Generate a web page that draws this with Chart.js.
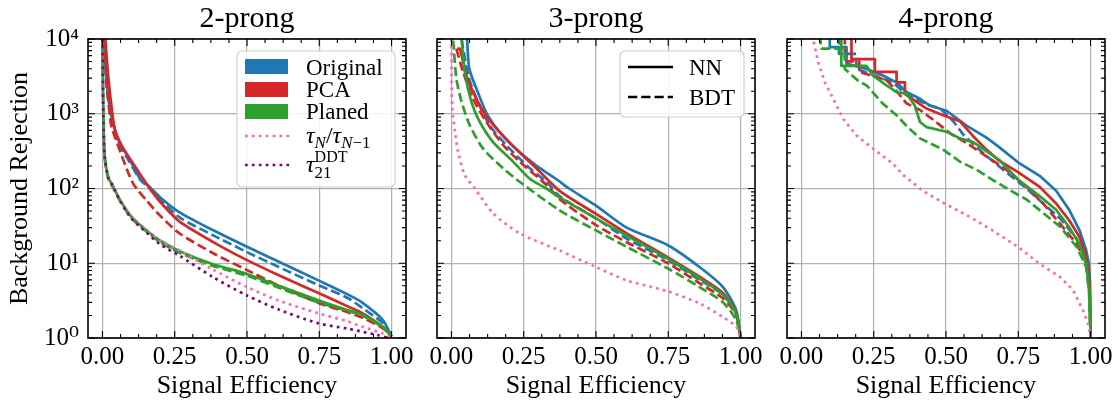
<!DOCTYPE html>
<html>
<head>
<meta charset="utf-8">
<title>Background rejection vs signal efficiency</title>
<script src="https://cdn.jsdelivr.net/npm/chart.js@4.4.1/dist/chart.umd.min.js"></script>
<style>
    html, body { margin: 0; padding: 0; background: #ffffff; }
    #figure { position: relative; width: 1118px; height: 403px; overflow: hidden; }
    #figure canvas { position: absolute; top: 0; }
</style>
</head>
<body>
<div id="figure">
    <canvas id="panel-2prong" width="420" height="403" style="left:0px"></canvas>
    <canvas id="panel-3prong" width="350" height="403" style="left:420px"></canvas>
    <canvas id="panel-4prong" width="348" height="403" style="left:770px"></canvas>
</div>
<script>
/* Axis ticks and labels */
var efficiencyTicks = [0, 0.25, 0.5, 0.75, 1];
var rejectionTicks = [1, 10, 100, 1000, 10000];
var panelTitles = ['2-prong', '3-prong', '4-prong'];
var sampleLabels = ['Original', 'PCA', 'Planed'];
var modelLabels = ['NN', 'BDT'];

/* 2-prong: signal efficiency / background rejection */
var p2OriginalEff = [0.005, 0.015, 0.03, 0.06, 0.087, 0.13, 0.158, 0.2, 0.267, 0.38, 0.5, 0.61, 0.747, 0.85, 0.9, 0.97, 1.0];
var p2OriginalNN  = [10000, 2512, 955, 398, 275, 135, 110, 76, 48, 28, 16.6, 10.5, 5.9, 3.8, 2.95, 1.74, 1.05];
var p2OriginalBDT = [10000, 2239, 891, 380, 251, 132, 105, 72, 41, 24, 14.1, 8.9, 5.1, 3.4, 2.5, 1.58, 1.05];
var p2PcaNNEff    = [0.01, 0.02, 0.035, 0.045, 0.07, 0.11, 0.156, 0.2, 0.267, 0.38, 0.5, 0.61, 0.747, 0.85, 0.9, 0.97, 1.0];
var p2PcaNN       = [10000, 3162, 955, 575, 355, 204, 110, 66, 36, 19.5, 11, 6.9, 4.0, 2.63, 2.14, 1.41, 1.05];
var p2PcaBDTEff   = [0.005, 0.015, 0.03, 0.045, 0.087, 0.11, 0.15, 0.2, 0.267, 0.38, 0.5, 0.61, 0.747, 0.85, 0.9, 0.97, 1.0];
var p2PcaBDT      = [10000, 2512, 708, 468, 170, 110, 71, 43, 25, 13.8, 8.1, 5.0, 2.95, 2.19, 1.86, 1.35, 1.05];
var p2PlanedEff   = [0.0, 0.003, 0.0075, 0.02, 0.035, 0.06, 0.1, 0.15, 0.2, 0.267, 0.38, 0.5, 0.61, 0.747, 0.85, 0.9, 0.97, 1.0];
var p2PlanedNN    = [10000, 1000, 275, 141, 110, 71, 42, 28, 20, 14.5, 9.8, 7.2, 5.0, 3.2, 2.34, 2.04, 1.41, 1.05];
var p2PlanedBDT   = [10000, 1000, 263, 135, 105, 69, 40, 27, 19, 13.8, 9.3, 6.8, 4.7, 3.0, 2.29, 2.0, 1.38, 1.05];
var p2TauRatio    = [10000, 1000, 275, 141, 110, 71, 42, 27.5, 20, 14.8, 8.3, 4.8, 3.16, 2.14, 1.66, 1.41, 1.15, 1.0];
var p2TauDDTEff   = [0.0, 0.003, 0.0075, 0.02, 0.035, 0.06, 0.1, 0.15, 0.2, 0.267, 0.38, 0.5, 0.61, 0.747, 0.85, 0.9, 0.95, 0.99];
var p2TauDDT      = [10000, 1000, 275, 141, 110, 69, 40, 26.3, 17.8, 12.6, 6.6, 3.7, 2.4, 1.57, 1.33, 1.21, 1.1, 1.0];

/* 3-prong */
var p3OriginalNNEff  = [0.054, 0.062, 0.096, 0.125, 0.165, 0.223, 0.292, 0.361, 0.407, 0.5, 0.606, 0.749, 0.858, 0.939, 0.985, 1.0];
var p3OriginalNN     = [10000, 3981, 1738, 955, 575, 339, 204, 135, 100, 59, 30, 17.4, 8.9, 4.8, 2.34, 1.0];
var p3OriginalBDTEff = [0.035, 0.058, 0.087, 0.133, 0.19, 0.271, 0.328, 0.374, 0.5, 0.606, 0.749, 0.858, 0.939, 0.985, 1.0];
var p3OriginalBDT    = [10000, 3236, 1585, 692, 380, 186, 123, 79, 39.8, 21.4, 11, 6.0, 3.8, 2.14, 1.0];
var p3PcaNNEff       = [0.02, 0.029, 0.052, 0.075, 0.11, 0.156, 0.225, 0.294, 0.374, 0.5, 0.606, 0.749, 0.858, 0.939, 0.985, 1.0];
var p3PcaNN          = [7413, 7413, 3236, 1950, 1072, 631, 331, 186, 93, 45.7, 25.1, 12.0, 6.6, 4.0, 2.14, 1.0];
var p3PcaBDTEff      = [0.017, 0.04, 0.075, 0.121, 0.179, 0.236, 0.328, 0.374, 0.5, 0.606, 0.749, 0.858, 0.939, 0.985, 1.0];
var p3PcaBDT         = [7413, 3631, 1585, 776, 380, 229, 112, 72, 32.4, 19.1, 10, 5.4, 3.4, 2.04, 1.0];
var p3PlanedNNEff    = [0.035, 0.046, 0.069, 0.098, 0.144, 0.213, 0.271, 0.328, 0.374, 0.5, 0.606, 0.749, 0.858, 0.939, 0.985, 1.0];
var p3PlanedNN       = [10000, 3631, 1445, 776, 417, 229, 135, 100, 76, 39.8, 23.4, 11.5, 6.3, 3.8, 2.14, 1.0];
var p3PlanedBDTEff   = [0.006, 0.017, 0.035, 0.064, 0.11, 0.179, 0.236, 0.374, 0.5, 0.606, 0.749, 0.858, 0.939, 0.985, 1.0];
var p3PlanedBDT      = [9550, 2951, 1445, 692, 339, 186, 123, 51, 27.5, 16.6, 8.5, 4.8, 3.0, 1.74, 1.0];
var p3TauEff         = [0.0, 0.002, 0.012, 0.023, 0.046, 0.081, 0.143, 0.236, 0.374, 0.5, 0.606, 0.749, 0.858, 0.939, 0.985, 1.0];
var p3TauRatio       = [10000, 1288, 575, 309, 151, 100, 46.8, 25.1, 14.8, 8.9, 5.9, 4.2, 2.9, 1.9, 1.41, 1.0];

/* 4-prong (stepped at low efficiency) */
var p4OriginalNNEff  = [0.098, 0.098, 0.156, 0.156, 0.225, 0.283, 0.329, 0.363, 0.41, 0.444, 0.502, 0.571, 0.64, 0.685, 0.749, 0.824, 0.881, 0.927, 0.962, 0.985, 0.994, 0.998, 1.0];
var p4OriginalNN     = [11220, 7762, 7762, 4677, 3981, 3236, 2630, 1950, 1585, 1288, 1096, 692, 479, 355, 224, 148, 93, 51, 27.5, 14.8, 10, 5.4, 1.0];
var p4OriginalBDTEff = [0.13, 0.13, 0.19, 0.19, 0.26, 0.317, 0.363, 0.41, 0.444, 0.48, 0.525, 0.56, 0.606, 0.663, 0.721, 0.779, 0.836, 0.894, 0.952, 0.985, 0.997, 1.0];
var p4OriginalBDT    = [11220, 6310, 6310, 3981, 3162, 2630, 1778, 1479, 1288, 1175, 794, 525, 355, 229, 151, 100, 63, 40, 21.4, 11.2, 4.0, 1.0];
var p4PcaNNEff       = [0.173, 0.173, 0.254, 0.254, 0.329, 0.329, 0.358, 0.358, 0.398, 0.433, 0.49, 0.548, 0.594, 0.64, 0.685, 0.749, 0.824, 0.881, 0.927, 0.962, 0.985, 0.997, 1.0];
var p4PcaNN          = [11220, 5370, 5370, 3631, 3631, 2630, 2630, 1862, 1445, 1175, 955, 794, 501, 331, 234, 166, 105, 63, 37, 22.4, 12, 5.4, 1.0];
var p4PcaBDTEff      = [0.15, 0.15, 0.2, 0.2, 0.294, 0.33, 0.363, 0.41, 0.456, 0.513, 0.571, 0.64, 0.709, 0.779, 0.836, 0.894, 0.952, 0.985, 0.997, 1.0];
var p4PcaBDT         = [11220, 5012, 5012, 3631, 2818, 1995, 1380, 1122, 832, 550, 407, 269, 178, 105, 63, 34, 18.2, 10, 4.0, 1.0];
var p4PlanedNNEff    = [0.138, 0.138, 0.225, 0.248, 0.294, 0.329, 0.363, 0.392, 0.41, 0.433, 0.502, 0.548, 0.594, 0.64, 0.685, 0.749, 0.824, 0.881, 0.927, 0.962, 0.985, 0.997, 1.0];
var p4PlanedNN       = [11220, 4365, 4365, 3236, 2399, 1950, 1862, 1288, 776, 661, 575, 468, 417, 316, 240, 132, 79, 52, 30, 17.8, 10, 4.0, 1.0];
var p4PlanedBDTEff   = [0.063, 0.069, 0.15, 0.15, 0.196, 0.225, 0.283, 0.329, 0.363, 0.41, 0.49, 0.548, 0.606, 0.663, 0.721, 0.779, 0.836, 0.894, 0.952, 0.985, 0.995, 1.0];
var p4PlanedBDT      = [11220, 7413, 7413, 3981, 2754, 2399, 1349, 955, 692, 468, 331, 229, 178, 129, 95, 71, 47, 31, 16.6, 8.9, 4.0, 1.0];
var p4TauEff         = [0.035, 0.04, 0.058, 0.081, 0.11, 0.144, 0.19, 0.248, 0.317, 0.352, 0.42, 0.498, 0.581, 0.661, 0.749, 0.824, 0.893, 0.939, 0.974, 0.991, 1.0];
var p4TauRatio       = [11220, 10000, 4898, 2630, 1585, 851, 513, 339, 214, 151, 93, 62, 42, 27.5, 16.6, 9.8, 6.6, 4.4, 2.34, 1.58, 1.0];

var FONT = "'Liberation Serif', 'DejaVu Serif', serif";
var COLORS = {
    original: '#1f77b4',
    pca: '#d62728',
    planed: '#2ca02c',
    tauRatio: '#ff69b4',
    tauDDT: '#800080',
    grid: '#b0b0b0'
};
var DASHES = {
    solid: [],
    dashed: [9.25, 4],
    dotted: [2.7, 4.2]
};
var LINE_WIDTH = 2.7;
var SUPERSCRIPTS = ['\u2070', '\u00b9', '\u00b2', '\u00b3', '\u2074'];

/**
 * Builds one line dataset from an efficiency array and a rejection array
 */
function series(eff, rej, color, dash, tension) {
    return {
        data: eff.map(function(x, i) { return { x: x, y: rej[i] }; }),
        borderColor: color,
        backgroundColor: color,
        borderWidth: LINE_WIDTH,
        borderDash: dash,
        borderJoinStyle: 'round',
        pointRadius: 0,
        fill: false,
        tension: tension
    };
}

/**
 * Inward ticks on all four sides plus the black frame
 */
var frameTicksPlugin = {
    id: 'frameTicks',
    afterDraw: function(chart) {
        var ctx = chart.ctx;
        var a = chart.chartArea;
        var xs = chart.scales.x;
        var ys = chart.scales.y;
        var i, k, d, v, p, len;

        ctx.save();
        ctx.strokeStyle = '#000000';
        ctx.lineWidth = 1.1;
        ctx.beginPath();
        for (i = 0; i <= 16; i++) {
            v = i * 0.0625;
            p = xs.getPixelForValue(v);
            len = efficiencyTicks.indexOf(v) >= 0 ? 7 : 4;
            ctx.moveTo(p, a.bottom); ctx.lineTo(p, a.bottom - len);
            ctx.moveTo(p, a.top); ctx.lineTo(p, a.top + len);
        }
        for (d = 0; d < 4; d++) {
            for (k = 1; k <= 9; k++) {
                p = ys.getPixelForValue(k * Math.pow(10, d));
                len = k === 1 ? 7 : 4;
                ctx.moveTo(a.left, p); ctx.lineTo(a.left + len, p);
                ctx.moveTo(a.right, p); ctx.lineTo(a.right - len, p);
            }
        }
        p = ys.getPixelForValue(10000);
        ctx.moveTo(a.left, p); ctx.lineTo(a.left + 7, p);
        ctx.moveTo(a.right, p); ctx.lineTo(a.right - 7, p);
        ctx.stroke();

        ctx.lineWidth = 1.6;
        ctx.strokeRect(a.left, a.top, a.right - a.left, a.bottom - a.top);
        ctx.restore();
    }
};

/**
 * Draws a run of text pieces (italic, sub/superscripts) from a baseline
 */
function drawRich(ctx, x, y, runs) {
    runs.forEach(function(r) {
        ctx.font = (r.italic ? 'italic ' : '') + r.size + 'px ' + FONT;
        ctx.fillText(r.text, x, y + (r.dy || 0));
        if (!r.stack) {
            x += ctx.measureText(r.text).width + (r.gap || 0);
        }
    });
}

/**
 * Legend box drawn inside a panel; coordinates are canvas pixels
 */
function legendPlugin(spec) {
    return {
        id: 'panelLegend',
        afterDraw: function(chart) {
            if (!spec || !spec.box) return;
            var ctx = chart.ctx;
            var b = spec.box;
            ctx.save();
            ctx.beginPath();
            ctx.roundRect(b.x, b.y, b.w, b.h, 5);
            ctx.fillStyle = 'rgba(255, 255, 255, 0.85)';
            ctx.fill();
            ctx.strokeStyle = '#d0d0d0';
            ctx.lineWidth = 1.2;
            ctx.stroke();

            spec.items.forEach(function(item) {
                if (item.kind === 'patch') {
                    ctx.fillStyle = item.color;
                    ctx.fillRect(b.x + 8, item.y - 7.5, 43, 15);
                } else {
                    ctx.strokeStyle = item.color;
                    ctx.lineWidth = LINE_WIDTH;
                    ctx.setLineDash(item.dash);
                    ctx.beginPath();
                    ctx.moveTo(b.x + 8, item.y);
                    ctx.lineTo(b.x + 53, item.y);
                    ctx.stroke();
                    ctx.setLineDash([]);
                }
                ctx.fillStyle = '#000000';
                ctx.textBaseline = 'alphabetic';
                ctx.textAlign = 'left';
                drawRich(ctx, spec.textX, item.baseline, item.runs);
            });
            ctx.restore();
        }
    };
}

/**
 * Creates one panel of the figure
 */
function buildPanel(canvasId, cfg) {
    var canvas = document.getElementById(canvasId);
    if (!canvas) return null;

    var datasets = cfg.datasets.map(function(ds, i) {
        ds.order = cfg.datasets.length - i;
        return ds;
    });

    return new Chart(canvas.getContext('2d'), {
        type: 'line',
        data: { datasets: datasets },
        options: {
            responsive: false,
            animation: false,
            events: [],
            layout: { padding: cfg.padding },
            plugins: {
                legend: { display: false },
                tooltip: { enabled: false },
                title: {
                    display: true,
                    text: cfg.title,
                    fullSize: false,
                    color: '#000000',
                    font: { family: FONT, size: 30, weight: 'normal' },
                    padding: { top: 1.5, bottom: 1.5 }
                }
            },
            scales: {
                x: {
                    type: 'linear',
                    min: -0.05,
                    max: 1.05,
                    afterBuildTicks: function(scale) {
                        scale.ticks = efficiencyTicks.map(function(v) { return { value: v }; });
                    },
                    afterFit: function(scale) { scale.height = 65; },
                    ticks: {
                        callback: function(v) { return Number(v).toFixed(2); },
                        color: '#000000',
                        font: { family: FONT, size: 25 },
                        padding: 4,
                        maxRotation: 0,
                        autoSkip: false
                    },
                    grid: { color: COLORS.grid, lineWidth: 1.2, drawTicks: false },
                    border: { display: false },
                    title: {
                        display: true,
                        text: 'Signal Efficiency',
                        color: '#000000',
                        font: { family: FONT, size: 26 },
                        padding: { top: 0, bottom: 1 }
                    }
                },
                y: {
                    type: 'logarithmic',
                    min: 1,
                    max: 10000,
                    afterBuildTicks: function(scale) {
                        scale.ticks = rejectionTicks.map(function(v) { return { value: v }; });
                    },
                    afterFit: function(scale) { scale.width = cfg.yWidth; },
                    ticks: {
                        display: cfg.showY,
                        callback: function(v) {
                            return '10' + SUPERSCRIPTS[Math.round(Math.log10(v))];
                        },
                        color: '#000000',
                        font: { family: FONT, size: 25 },
                        padding: 9,
                        autoSkip: false
                    },
                    grid: { color: COLORS.grid, lineWidth: 1.2, drawTicks: false },
                    border: { display: false },
                    title: {
                        display: cfg.showY,
                        text: 'Background Rejection',
                        color: '#000000',
                        font: { family: FONT, size: 26 },
                        padding: { top: 5, bottom: 0 }
                    }
                }
            }
        },
        plugins: [frameTicksPlugin, legendPlugin(cfg.legend)]
    });
}

var smooth = 0.25;

buildPanel('panel-2prong', {
    title: panelTitles[0],
    padding: { left: 0, right: 14, top: 0, bottom: 0 },
    yWidth: 88,
    showY: true,
    datasets: [
        series(p2OriginalEff, p2OriginalNN, COLORS.original, DASHES.solid, smooth),
        series(p2OriginalEff, p2OriginalBDT, COLORS.original, DASHES.dashed, smooth),
        series(p2PcaNNEff, p2PcaNN, COLORS.pca, DASHES.solid, smooth),
        series(p2PcaBDTEff, p2PcaBDT, COLORS.pca, DASHES.dashed, smooth),
        series(p2PlanedEff, p2PlanedNN, COLORS.planed, DASHES.solid, smooth),
        series(p2PlanedEff, p2PlanedBDT, COLORS.planed, DASHES.dashed, smooth),
        series(p2PlanedEff, p2TauRatio, COLORS.tauRatio, DASHES.dotted, smooth),
        series(p2TauDDTEff, p2TauDDT, COLORS.tauDDT, DASHES.dotted, smooth)
    ],
    legend: {
        box: { x: 237, y: 51, w: 158, h: 136 },
        textX: 306,
        items: [
            { kind: 'patch', color: COLORS.original, y: 66.5, baseline: 75, runs: [{ text: sampleLabels[0], size: 23 }] },
            { kind: 'patch', color: COLORS.pca, y: 89.5, baseline: 97, runs: [{ text: sampleLabels[1], size: 23 }] },
            { kind: 'patch', color: COLORS.planed, y: 111.5, baseline: 119, runs: [{ text: sampleLabels[2], size: 23 }] },
            { kind: 'line', color: COLORS.tauRatio, dash: DASHES.dotted, y: 136, baseline: 143, runs: [
                { text: '\u03c4', italic: true, size: 24 },
                { text: 'N', italic: true, size: 17, dy: 5 },
                { text: '/', size: 24 },
                { text: '\u03c4', italic: true, size: 24 },
                { text: 'N', italic: true, size: 17, dy: 5 },
                { text: '\u22121', size: 17, dy: 5 }
            ] },
            { kind: 'line', color: COLORS.tauDDT, dash: DASHES.dotted, y: 165, baseline: 172, runs: [
                { text: '\u03c4', italic: true, size: 24 },
                { text: '21', size: 17, dy: 6, stack: true },
                { text: 'DDT', size: 16, dy: -10 }
            ] }
        ]
    }
});

buildPanel('panel-3prong', {
    title: panelTitles[1],
    padding: { left: 17, right: 15, top: 0, bottom: 0 },
    yWidth: 0,
    showY: false,
    datasets: [
        series(p3OriginalNNEff, p3OriginalNN, COLORS.original, DASHES.solid, smooth),
        series(p3OriginalBDTEff, p3OriginalBDT, COLORS.original, DASHES.dashed, smooth),
        series(p3PcaNNEff, p3PcaNN, COLORS.pca, DASHES.solid, smooth),
        series(p3PcaBDTEff, p3PcaBDT, COLORS.pca, DASHES.dashed, smooth),
        series(p3PlanedNNEff, p3PlanedNN, COLORS.planed, DASHES.solid, smooth),
        series(p3PlanedBDTEff, p3PlanedBDT, COLORS.planed, DASHES.dashed, smooth),
        series(p3TauEff, p3TauRatio, COLORS.tauRatio, DASHES.dotted, smooth)
    ],
    legend: {
        box: { x: 200, y: 51, w: 124, h: 66 },
        textX: 269,
        items: [
            { kind: 'line', color: '#000000', dash: DASHES.solid, y: 67, baseline: 75, runs: [{ text: modelLabels[0], size: 23 }] },
            { kind: 'line', color: '#000000', dash: DASHES.dashed, y: 97, baseline: 105, runs: [{ text: modelLabels[1], size: 23 }] }
        ]
    }
});

buildPanel('panel-4prong', {
    title: panelTitles[2],
    padding: { left: 17, right: 13, top: 0, bottom: 0 },
    yWidth: 0,
    showY: false,
    datasets: [
        series(p4OriginalNNEff, p4OriginalNN, COLORS.original, DASHES.solid, 0),
        series(p4OriginalBDTEff, p4OriginalBDT, COLORS.original, DASHES.dashed, 0),
        series(p4PcaNNEff, p4PcaNN, COLORS.pca, DASHES.solid, 0),
        series(p4PcaBDTEff, p4PcaBDT, COLORS.pca, DASHES.dashed, 0),
        series(p4PlanedNNEff, p4PlanedNN, COLORS.planed, DASHES.solid, 0),
        series(p4PlanedBDTEff, p4PlanedBDT, COLORS.planed, DASHES.dashed, 0),
        series(p4TauEff, p4TauRatio, COLORS.tauRatio, DASHES.dotted, 0)
    ],
    legend: null
});
</script>
</body>
</html>
